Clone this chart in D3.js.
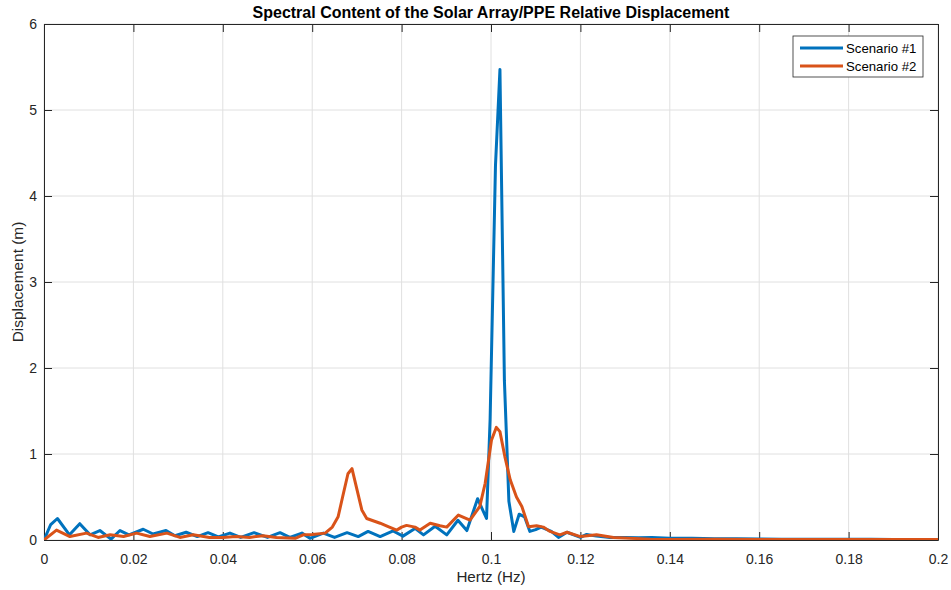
<!DOCTYPE html>
<html>
<head>
<meta charset="utf-8">
<script src="https://cdn.jsdelivr.net/npm/d3@7"></script>
<style>
  html, body { margin: 0; padding: 0; background: #fff; }
  svg { display: block; font-family: "Liberation Sans", Arial, Helvetica, sans-serif; }
</style>
</head>
<body>
<svg id="chart" width="951" height="590"></svg>
<script>
// Frequency axis ticks and displacement ticks
const xTicks = [0, 0.02, 0.04, 0.06, 0.08, 0.1, 0.12, 0.14, 0.16, 0.18, 0.2];
const yTicks = [0, 1, 2, 3, 4, 5, 6];

// Scenario #1 spectrum (Hz, m)
const s1Hz = [0, 0.0015, 0.003, 0.0057, 0.008, 0.0103, 0.0125, 0.015, 0.017, 0.019,
  0.0222, 0.0244, 0.0273, 0.0293, 0.0318, 0.0343, 0.0367, 0.039, 0.0416, 0.044,
  0.047, 0.050, 0.0528, 0.055, 0.0577, 0.0595, 0.0625, 0.065, 0.0678, 0.0703,
  0.0725, 0.0752, 0.0781, 0.0803, 0.083, 0.0849, 0.0875, 0.0901, 0.0926, 0.0946,
  0.097, 0.099, 0.0998, 0.101, 0.102, 0.103, 0.104, 0.1051, 0.1063, 0.1075,
  0.1087, 0.110, 0.1112, 0.1135, 0.1151, 0.117, 0.120, 0.1214, 0.1236, 0.1266,
  0.130, 0.133, 0.136, 0.140, 0.145, 0.150, 0.155, 0.160, 0.165, 0.170,
  0.175, 0.180, 0.185, 0.190, 0.195, 0.200];
const s1Disp = [0, 0.18, 0.25, 0.06, 0.19, 0.06, 0.11, 0.01, 0.11, 0.06,
  0.125, 0.07, 0.11, 0.05, 0.09, 0.04, 0.085, 0.035, 0.08, 0.03,
  0.085, 0.03, 0.085, 0.03, 0.08, 0.02, 0.08, 0.03, 0.085, 0.04,
  0.10, 0.04, 0.105, 0.045, 0.135, 0.06, 0.16, 0.06, 0.23, 0.11,
  0.48, 0.25, 1.40, 4.35, 5.47, 1.85, 0.45, 0.10, 0.30, 0.27,
  0.10, 0.12, 0.15, 0.10, 0.03, 0.09, 0.03, 0.065, 0.045, 0.03,
  0.03, 0.025, 0.03, 0.02, 0.02, 0.015, 0.015, 0.012, 0.01, 0.01,
  0.01, 0.008, 0.008, 0.006, 0.006, 0.005];

// Scenario #2 spectrum (Hz, m)
const s2Hz = [0, 0.0028, 0.0058, 0.0095, 0.0121, 0.0148, 0.0178, 0.0207, 0.0237, 0.0275,
  0.0304, 0.0334, 0.037, 0.040, 0.043, 0.046, 0.049, 0.052, 0.0562, 0.058,
  0.060, 0.0629, 0.0645, 0.0658, 0.0668, 0.068, 0.0689, 0.0711, 0.0722, 0.0752,
  0.077, 0.0789, 0.080, 0.0811, 0.083, 0.0841, 0.0864, 0.0886, 0.0901, 0.0927,
  0.0953, 0.0975, 0.0987, 0.1001, 0.1012, 0.102, 0.1031, 0.1043, 0.1057, 0.1069,
  0.1084, 0.1102, 0.1117, 0.1132, 0.1154, 0.117, 0.120, 0.1236, 0.1274, 0.1356,
  0.140, 0.150, 0.160, 0.170, 0.180, 0.190, 0.200];
const s2Disp = [0, 0.115, 0.04, 0.08, 0.03, 0.06, 0.04, 0.08, 0.04, 0.08,
  0.03, 0.06, 0.03, 0.03, 0.04, 0.03, 0.05, 0.03, 0.02, 0.06,
  0.065, 0.08, 0.15, 0.27, 0.50, 0.77, 0.83, 0.35, 0.25, 0.195,
  0.155, 0.115, 0.15, 0.17, 0.15, 0.115, 0.195, 0.165, 0.15, 0.29,
  0.23, 0.39, 0.66, 1.16, 1.31, 1.26, 0.97, 0.70, 0.50, 0.39,
  0.155, 0.165, 0.15, 0.10, 0.06, 0.09, 0.04, 0.06, 0.03, 0.01,
  0.005, 0.008, 0.005, 0.007, 0.005, 0.006, 0.005];

const seriesNames = ["Scenario #1", "Scenario #2"];
const seriesColors = ["#0072BD", "#D95319"];

const svg = d3.select("#chart");
const plotLeft = 44, plotRight = 938, plotTop = 24, plotBottom = 540;

const x = d3.scaleLinear().domain([0, 0.2]).range([plotLeft, plotRight]);
const y = d3.scaleLinear().domain([0, 6]).range([plotBottom, plotTop]);

const axisColor = "#262626";

// Grid
const grid = svg.append("g");
grid.selectAll("line.gx").data(xTicks).join("line")
  .attr("class", "gx")
  .attr("x1", d => x(d)).attr("x2", d => x(d))
  .attr("y1", plotTop).attr("y2", plotBottom)
  .attr("stroke", "#e0e0e0").attr("stroke-width", 1);
grid.selectAll("line.gy").data(yTicks).join("line")
  .attr("class", "gy")
  .attr("x1", plotLeft).attr("x2", plotRight)
  .attr("y1", d => y(d)).attr("y2", d => y(d))
  .attr("stroke", "#e0e0e0").attr("stroke-width", 1);

// Axes with inward ticks
const fmtX = d => d === 0 ? "0" : d3.format("~g")(d);
const xAxis = d3.axisBottom(x).tickValues(xTicks).tickFormat(fmtX).tickSizeInner(-8).tickSizeOuter(0).tickPadding(14);
const yAxis = d3.axisLeft(y).tickValues(yTicks).tickFormat(d3.format("d")).tickSizeInner(-8).tickSizeOuter(0).tickPadding(7);
const xTop = d3.axisTop(x).tickValues(xTicks).tickFormat("").tickSizeInner(-8).tickSizeOuter(0);
const yRight = d3.axisRight(y).tickValues(yTicks).tickFormat("").tickSizeInner(-8).tickSizeOuter(0);

function styleAxis(g) {
  g.select(".domain").attr("stroke", axisColor).attr("stroke-width", 1);
  g.selectAll(".tick line").attr("stroke", axisColor).attr("stroke-width", 1);
  g.selectAll(".tick text").attr("fill", axisColor).attr("font-size", 14)
    .attr("font-family", "Liberation Sans, Arial, sans-serif");
}

svg.append("g").attr("transform", `translate(0,${plotBottom})`).call(xAxis).call(styleAxis);
svg.append("g").attr("transform", `translate(${plotLeft},0)`).call(yAxis).call(styleAxis);
svg.append("g").attr("transform", `translate(0,${plotTop})`).call(xTop).call(styleAxis);
svg.append("g").attr("transform", `translate(${plotRight},0)`).call(yRight).call(styleAxis);

// Series lines
const line = d3.line().x(d => x(d[0])).y(d => y(d[1]));
svg.append("clipPath").attr("id", "plotclip").append("rect")
  .attr("x", plotLeft).attr("y", plotTop)
  .attr("width", plotRight - plotLeft).attr("height", plotBottom - plotTop);

const seriesData = [
  s1Hz.map((f, i) => [f, s1Disp[i]]),
  s2Hz.map((f, i) => [f, s2Disp[i]])
];
svg.append("g").attr("clip-path", "url(#plotclip)")
  .selectAll("path").data(seriesData).join("path")
  .attr("d", line)
  .attr("fill", "none")
  .attr("stroke", (d, i) => seriesColors[i])
  .attr("stroke-width", 3)
  .attr("stroke-linejoin", "round")
  .attr("stroke-linecap", "round");

// Title and axis labels
svg.append("text").attr("x", (plotLeft + plotRight) / 2).attr("y", 18)
  .attr("text-anchor", "middle").attr("font-size", 16).attr("font-weight", "bold")
  .attr("fill", "#000").text("Spectral Content of the Solar Array/PPE Relative Displacement");
svg.append("text").attr("x", (plotLeft + plotRight) / 2).attr("y", 582)
  .attr("text-anchor", "middle").attr("font-size", 15.2).attr("fill", axisColor)
  .text("Hertz (Hz)");
svg.append("text").attr("transform", `translate(23,${(plotTop + plotBottom) / 2}) rotate(-90)`)
  .attr("text-anchor", "middle").attr("font-size", 15.4).attr("fill", axisColor)
  .text("Displacement (m)");

// Legend
const lg = svg.append("g").attr("transform", "translate(793,36)");
lg.append("rect").attr("x", 0).attr("y", 0).attr("width", 130).attr("height", 41)
  .attr("fill", "#fff").attr("stroke", axisColor).attr("stroke-width", 0.8);
seriesNames.forEach((name, i) => {
  const yy = 12 + i * 18;
  lg.append("line").attr("x1", 7).attr("x2", 50).attr("y1", yy).attr("y2", yy)
    .attr("stroke", seriesColors[i]).attr("stroke-width", 3);
  lg.append("text").attr("x", 53).attr("y", yy + 4.5).attr("font-size", 13.2)
    .attr("fill", "#000").text(name);
});
</script>
</body>
</html>
